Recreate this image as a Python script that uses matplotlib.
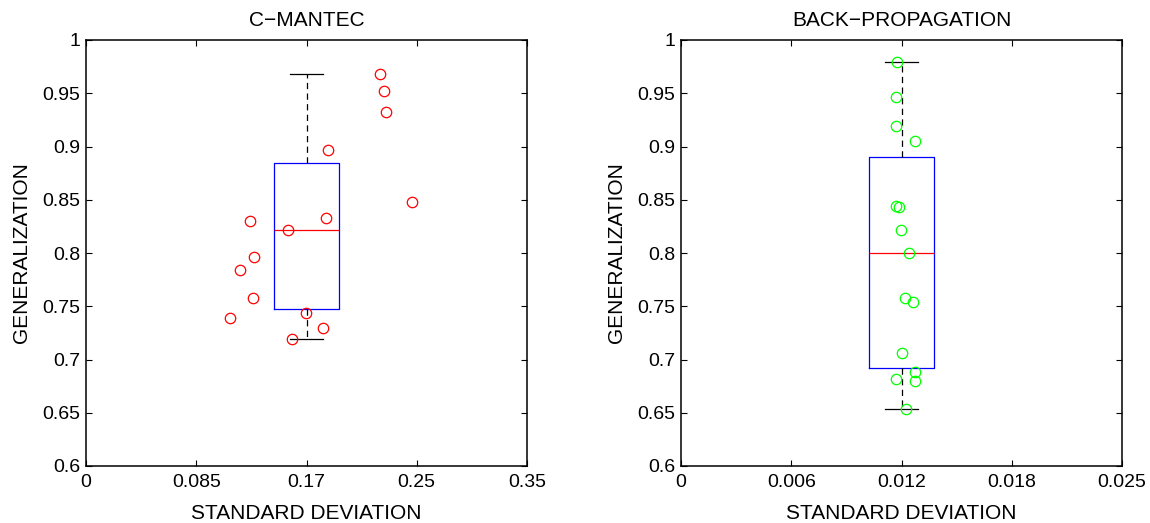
import numpy as np
import matplotlib.pyplot as plt

plt.rcParams['font.family'] = ['Liberation Sans', 'DejaVu Sans']
plt.rcParams['font.size'] = 14

# C-MANTEC: standard deviation vs generalization
cm_std = [0.2331, 0.2368, 0.2383, 0.1918, 0.2587, 0.1302, 0.1907, 0.1601,
          0.1333, 0.1220, 0.1325, 0.1145, 0.1749, 0.1879, 0.1633]
cm_gen = [0.9678, 0.9524, 0.9327, 0.8964, 0.8482, 0.8300, 0.8331, 0.8219,
          0.7965, 0.7840, 0.7577, 0.7390, 0.7434, 0.7293, 0.7190]
cm_box = dict(whislo=0.7190, q1=0.7471, med=0.8219, q3=0.8842, whishi=0.9678)

# BACK-PROPAGATION
bp_std = [0.012245, 0.012189, 0.012189, 0.013249, 0.012189, 0.012358, 0.012489,
          0.012925, 0.012716, 0.013169, 0.012511, 0.013249, 0.012189, 0.013249,
          0.012755]
bp_gen = [0.9791, 0.9462, 0.9193, 0.9052, 0.8444, 0.8435, 0.8219, 0.8000,
          0.7580, 0.7537, 0.7061, 0.6880, 0.6814, 0.6798, 0.6532]
bp_box = dict(whislo=0.6532, q1=0.6923, med=0.8000, q3=0.8899, whishi=0.9791)

yticks = [0.6, 0.65, 0.7, 0.75, 0.8, 0.85, 0.9, 0.95, 1.0]
ytick_labels = ['0.6', '0.65', '0.7', '0.75', '0.8', '0.85', '0.9', '0.95', '1']
cm_xlabels = ['0', '0.085', '0.17', '0.25', '0.35']
bp_xlabels = ['0', '0.006', '0.012', '0.018', '0.025']

fig = plt.figure(figsize=(11.5, 5.23), dpi=100)


def panel(rect, xs, ys, box, xmax, xlabels, color, title):
    ax = fig.add_axes(rect)
    pos = xmax / 2
    w = xmax * 0.1488
    stats = dict(box, fliers=[])
    ax.bxp([stats], positions=[pos], widths=[w], capwidths=[w / 2],
           boxprops=dict(color='#0000ff', linewidth=0.9),
           medianprops=dict(color='#ff0000', linewidth=0.9),
           whiskerprops=dict(color='black', linewidth=0.9, linestyle=(0, (5, 3.5))),
           capprops=dict(color='black', linewidth=0.9),
           manage_ticks=False)
    ax.plot(xs, ys, 'o', mfc='none', mec=color, ms=7.5, mew=0.9, zorder=5)
    ax.set_xlim(0, xmax)
    ax.set_ylim(0.6, 1.0)
    ax.set_xticks(np.linspace(0, xmax, 5))
    ax.set_xticklabels(xlabels)
    ax.set_yticks(yticks)
    ax.set_yticklabels(ytick_labels)
    ax.tick_params(direction='in', top=True, right=True, length=4, width=0.8,
                   labelsize=14)
    ax.tick_params(axis='x', pad=6)
    ax.tick_params(axis='y', pad=4)
    for s in ax.spines.values():
        s.set_linewidth(1.1)
    ax.set_title(title, fontsize=15, pad=10)
    ax.set_xlabel('STANDARD DEVIATION', fontsize=15, labelpad=9)
    ax.set_ylabel('GENERALIZATION', fontsize=15, labelpad=8)
    return ax


panel([86 / 1150, 57 / 523, 441 / 1150, 426 / 523], cm_std, cm_gen, cm_box,
      0.35, cm_xlabels, '#ff0000', 'C\u2212MANTEC')
panel([681 / 1150, 57 / 523, 441 / 1150, 426 / 523], bp_std, bp_gen, bp_box,
      0.025, bp_xlabels, '#00ff00', 'BACK\u2212PROPAGATION')

fig.savefig('out.png', dpi=100)
